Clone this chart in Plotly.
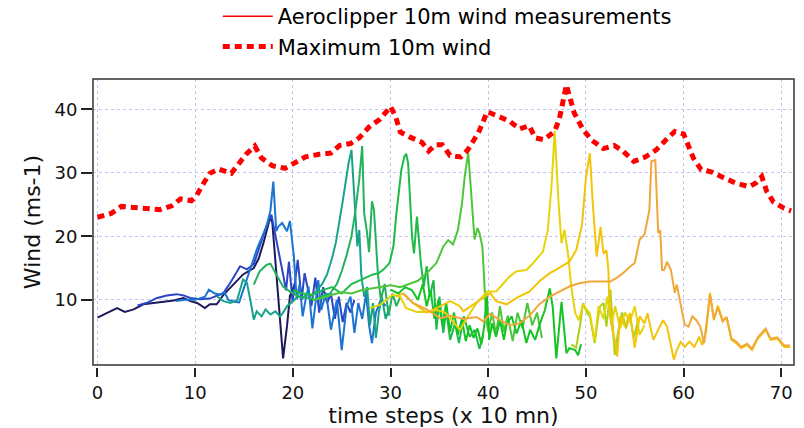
import plotly.graph_objects as go

# ---------------- data ----------------
# Maximum 10m wind (red dotted)
max_x = [0.0, 1.4, 2.45, 5.0, 6.4, 7.6, 8.5, 9.6, 10.1, 10.8, 11.5, 12.4, 13.7, 15.2, 16.1, 16.8, 17.9, 19.2, 20.3,
         21.3, 22.7, 23.9, 24.8, 25.9, 26.8, 27.8, 28.9, 30.0, 30.5, 31.0, 32.0, 33.2, 33.9, 34.6, 35.3, 36.1,
         37.2, 37.9, 39.0, 39.9, 41.0, 42.2, 43.2, 44.2, 44.8, 45.7, 46.8, 47.3, 48.0, 48.4, 48.8, 49.7, 50.6,
         51.8, 52.9, 53.8, 54.9, 56.1, 57.2, 58.2, 59.1, 60.0, 61.0, 61.8, 62.9, 64.1, 65.3, 66.7, 67.4, 68.0,
         68.5, 69.2, 70.3, 71.0]
max_y = [23.0, 23.6, 24.7, 24.4, 24.2, 24.8, 25.9, 25.6, 26.3, 28.2, 29.9, 30.6, 29.9, 32.9, 34.2, 32.3, 31.1, 30.7,
         31.7, 32.5, 32.9, 33.1, 34.3, 34.6, 35.5, 37.2, 38.4, 40.4, 38.9, 36.4, 35.6, 34.8, 33.4, 34.4, 34.4,
         32.7, 32.5, 33.6, 36.3, 39.6, 38.9, 38.1, 36.9, 37.4, 35.5, 35.2, 36.5, 38.6, 43.8, 41.7, 39.4, 36.8,
         35.1, 33.8, 34.3, 33.4, 31.8, 32.5, 33.6, 35.2, 36.5, 36.1, 32.3, 30.5, 30.1, 29.2, 28.4, 27.8, 28.4,
         29.4, 27.1, 25.4, 24.4, 24.0]

# Aeroclipper series (time step, wind)
s01_x = [0, 1, 2, 2.8, 3.7, 4.7, 5.7, 6.7, 7.8, 8.8, 9.5, 10.2, 11, 11.5, 12.2, 12.9, 13.9, 14.9, 16, 16.5, 17,
         17.4, 17.7, 17.9, 18.3, 18.7, 19.0, 19.4, 19.7, 20.2]
s01_y = [7.2, 7.9, 8.7, 8.1, 8.5, 9.3, 9.5, 9.6, 9.9, 10.3, 9.8, 9.5, 8.7, 9.3, 9.3, 10.8, 12.4, 14.0, 15.0, 16.5,
         19.0, 21.5, 23.1, 22.1, 14.8, 6.9, 0.8, 5.9, 10.6, 12.5]

s02_x = [4.1, 5, 6.1, 7.1, 8.1, 8.8, 9.5, 10.5, 11.5, 12.2, 12.9, 13.6, 14.6, 15.3, 16, 16.6, 17.3, 17.8, 18.2,
         18.5, 19.0, 19.3, 19.6, 19.97, 20.5, 20.9, 21.2, 21.6, 21.9, 22.3, 22.7, 23.1, 23.5, 23.9, 24.3, 24.7,
         25.1, 25.5, 25.9, 26.3]
s02_y = [9.1, 9.5, 10.3, 10.7, 10.9, 10.7, 10.3, 10.1, 10.2, 10.6, 11.1, 12.7, 15.3, 14.8, 15.6, 18.4, 21.6, 23.4,
         20.5, 17.9, 14.0, 11.5, 16.0, 9.7, 16.3, 10.0, 14.2, 11.0, 9.0, 13.5, 8.0, 12.0, 9.5, 11.0, 7.0, 10.5,
         6.5, 9.5, 8.0, 10.0]

s03_x = [8, 9, 10, 11, 11.4, 12, 12.6, 13, 13.4, 14, 14.5, 15.3, 16.3, 17.3, 17.7, 18.0, 18.3, 18.5, 18.9, 19.4,
         19.7, 20.1, 20.4, 20.7, 21.0, 21.3, 21.6, 22.0, 22.3, 22.6, 22.9, 23.4, 23.9, 24.5, 25.0, 25.5, 25.9,
         26.3, 26.7, 27.1, 27.5, 27.8, 28.1, 28.5, 29.0, 29.5]
s03_y = [9.8, 10.0, 10.0, 10.5, 11.6, 11.0, 10.8, 11.2, 10.0, 9.7, 9.6, 13.2, 17.9, 21.6, 24.0, 28.6, 20.8, 21.5,
         22.1, 20.8, 22.4, 16.9, 10.1, 12.5, 7.4, 10.0, 12.1, 5.5, 9.0, 13.1, 8.4, 11.1, 5.3, 10.0, 2.1, 9.0,
         10.5, 4.8, 9.5, 7.0, 11.0, 6.0, 3.2, 8.0, 10.0, 9.0]

s05_x = [12.2, 12.9, 13.6, 14.3, 14.9, 15.3, 15.7, 16.0, 16.3, 16.8, 17.2, 17.7, 18.2, 18.7, 19.0, 19.4, 20.0,
         20.5, 21, 21.5, 22, 22.5, 23, 23.5, 24, 24.4, 24.8, 25.1, 25.4, 25.7, 26.0, 26.2, 26.4, 26.6, 26.8, 27.0,
         27.3, 27.6, 27.9, 28.2, 28.5, 28.8, 29.1, 29.5, 29.9]
s05_y = [10.6, 9.8, 9.5, 10.0, 13.2, 12.7, 9.5, 6.9, 8.2, 7.4, 8.5, 7.7, 8.2, 7.4, 8.0, 9.0, 9.8, 10.5, 10.3, 11.0,
         10.6, 11.5, 12.5, 14.0, 16.5, 19.0, 22.5, 25.5, 28.5, 31.5, 33.6, 29.0, 24.1, 18.4, 21.0, 14.0, 10.5,
         12.0, 6.0, 9.5, 4.0, 8.0, 10.5, 7.0, 9.0]

s06_x = [16.0, 16.6, 17.3, 17.7, 18.3, 19.0, 19.7, 20.7, 21.5, 22.3, 23.0, 23.8, 24.5, 25.0, 25.5, 26.0, 26.4,
         26.8, 27.1, 27.3, 27.6, 27.8, 28.1, 28.3, 28.7, 29.0, 29.4, 29.8, 30.2, 30.6, 31.0]
s06_y = [12.4, 14.5, 15.5, 15.7, 14.0, 12.1, 11.3, 10.5, 10.3, 10.0, 10.6, 11.0, 12.5, 14.5, 17.0, 20.0, 24.0,
         29.0, 34.2, 23.6, 20.5, 17.5, 25.5, 24.2, 14.2, 10.0, 12.5, 7.5, 11.0, 9.0, 10.5]

s07_x = [20, 21, 22, 23, 24, 25, 26, 26.8, 27.5, 28.2, 28.8, 29.3, 29.9, 30.3, 30.6, 31.1, 31.4, 31.6, 31.8, 32.0,
         32.2, 32.4, 32.7, 33.1, 33.4, 33.7, 34.0, 34.4, 34.7, 35.0, 35.4, 35.7, 36.1, 36.6, 37.0, 37.5, 38.1,
         38.6, 39.1, 39.5]
s07_y = [11.5, 11.0, 10.8, 11.5, 12.0, 11.0, 12.5, 13.0, 13.5, 14.0, 14.2, 14.8, 15.8, 18.5, 23.6, 30.4, 32.5,
         33.0, 31.5, 26.3, 20.0, 17.3, 23.1, 15.8, 12.1, 15.3, 10.5, 13.1, 5.3, 10.5, 4.8, 8.4, 3.7, 6.3, 3.2,
         7.4, 4.2, 5.3, 2.3, 4.5]

s08_x = [22, 23, 24, 25, 26, 27, 28, 29, 30, 31, 32, 32.8, 33.7, 34.2, 34.7, 35.4, 35.9, 36.4, 36.9, 37.3, 37.6,
         37.95, 38.2, 38.4, 38.6, 38.9, 39.1, 39.4, 39.6, 39.8, 40.0, 40.4, 40.8, 41.2, 41.6, 42.0, 42.5, 43.0,
         43.5, 44.0, 44.5, 45.0, 45.5]
s08_y = [10.0, 10.3, 10.8, 11.2, 11.0, 11.5, 11.8, 12.0, 12.3, 12.0, 12.5, 13.0, 14.2, 15.0, 15.8, 18.4, 19.4,
         18.7, 21.0, 25.0, 29.5, 33.2, 28.0, 23.0, 19.5, 21.3, 20.5, 18.4, 13.0, 7.0, 5.0, 8.0, 4.5, 9.0, 5.0,
         7.5, 3.5, 8.0, 5.5, 9.5, 6.0, 8.0, 4.0]

s09_x = [30, 30.8, 31.5, 32.2, 32.8, 33.3, 33.7, 34.1, 34.5, 34.9, 35.3, 35.7, 36.1, 36.5, 36.9, 37.3, 37.7, 38.1,
         38.5, 38.9, 39.3, 39.6, 39.85, 40.1, 40.4, 40.8, 41.2, 41.6, 41.9, 42.4, 42.9, 43.4, 43.9, 44.3, 44.8,
         45.3, 45.8, 46.3, 46.6, 46.97, 47.5, 48.0, 48.3, 48.9, 49.2, 49.5]
s09_y = [11.6, 11.0, 12.0, 11.5, 10.0, 12.5, 9.0, 11.5, 7.0, 10.0, 6.0, 9.5, 5.0, 8.0, 4.5, 7.0, 3.5, 6.0, 4.0,
         5.5, 3.0, 6.0, 11.0, 3.7, 6.3, 4.2, 6.8, 3.7, 6.3, 7.4, 4.7, 6.8, 3.2, 5.3, 3.7, 6.3, 8.4, 11.8, 8.9,
         0.8, 9.7, 1.6, 2.4, 2.1, 1.3, 3.0]

s10_x = [48.5, 49.0, 49.4, 49.7, 50.1, 50.4, 50.9, 51.4, 51.8, 52.1, 52.5, 52.95, 53.3, 53.7, 54.1, 54.5, 54.9,
         55.3]
s10_y = [3.0, 2.5, 6.0, 9.5, 8.0, 7.4, 3.2, 8.9, 9.5, 5.8, 11.6, 1.35, 5.0, 8.0, 5.5, 7.5, 4.0, 6.5]

s11_x = [27.9, 28.9, 30.2, 31.0, 31.6, 32.7, 33.7, 34.7, 35.6, 36.6, 37.1, 37.8, 38.8, 39.9, 40.8, 41.5, 42.2,
         42.9, 43.9, 44.6, 45.6, 46.1, 46.5, 46.8, 47.2, 47.5, 47.8, 48.2, 48.5, 48.9, 49.3, 49.7, 50.1, 50.4,
         50.9, 51.3, 51.8, 52.2, 52.6, 53.0, 53.5, 54.0, 54.5, 55.0, 55.5, 56.0]
s11_y = [8.7, 9.2, 10.8, 10.5, 8.7, 8.1, 8.1, 8.4, 8.0, 6.3, 5.3, 7.1, 9.5, 11.3, 11.3, 12.5, 13.7, 14.5, 14.7,
         15.8, 17.6, 21.0, 28.4, 36.6, 25.2, 18.9, 21.0, 16.8, 12.1, 7.9, 6.8, 9.4, 8.4, 7.9, 3.5, 9.0, 7.0,
         10.5, 6.0, 9.0, 5.5, 8.0, 6.5, 9.0, 4.5, 6.0]

s12_x = [30.5, 31.3, 32.3, 33.7, 34.7, 36.1, 37.1, 37.45, 38.5, 39.5, 40.2, 40.8, 41.9, 42.9, 44.2, 45.3, 46.3,
         47.0, 47.7, 48.3, 49.0, 49.6, 50.0, 50.4, 50.7, 51.1, 51.5, 51.8, 52.1, 52.3, 52.4, 52.7, 52.95, 53.2,
         53.5, 54.0, 54.5, 55.0, 55.5, 56.0, 56.3, 56.9, 57.4, 57.9, 58.3, 58.6, 59.0, 59.3, 59.7, 60.1, 60.6,
         61.1, 61.6, 61.9, 62.3, 62.7, 63.1, 63.5, 64.0, 64.4, 64.9, 65.4, 65.9, 66.5, 67.0, 67.6, 68.4, 68.9,
         69.6, 70.3, 70.9]
s12_y = [10.5, 11.0, 9.5, 8.0, 8.7, 9.8, 9.0, 8.2, 9.3, 10.3, 11.1, 9.8, 9.3, 10.3, 11.3, 13.0, 14.2, 14.8, 15.4,
         16.0, 17.8, 21.8, 29.2, 33.1, 25.2, 16.8, 21.5, 17.3, 17.8, 14.7, 9.4, 5.3, 3.7, 1.1, 7.4, 5.8, 7.9,
         2.5, 7.4, 6.3, 7.9, 3.7, 5.3, 6.8, 5.8, 3.7, 0.6, 2.1, 3.4, 2.6, 3.4, 2.6, 4.2, 2.9, 5.0, 11.1, 6.8,
         9.1, 6.8, 7.1, 3.7, 3.2, 2.4, 2.9, 2.1, 3.9, 5.3, 3.7, 3.9, 2.6, 2.6]

s13_x = [31.3, 32.3, 33.7, 35.1, 36.1, 37.45, 38.8, 39.5, 40.2, 41.2, 42.2, 43.2, 44.2, 45.3, 46.3, 47.3, 48.3,
         49.3, 50.4, 51.4, 52.5, 53.1, 53.8, 54.5, 55.0, 55.5, 56.0, 56.5, 56.7, 57.1, 57.4, 57.6, 57.8, 58.0,
         58.3, 58.7, 59.1, 59.3, 59.7, 60.1, 60.5, 60.9, 61.3, 61.7, 62.1, 62.7, 63.1, 63.5, 64.0, 64.4, 64.9,
         65.4, 65.9, 66.5, 67.0, 67.6, 68.4, 68.9, 69.6, 70.3, 70.9]
s13_y = [11.0, 9.5, 8.5, 7.1, 7.5, 7.0, 7.3, 6.6, 7.8, 6.8, 6.0, 6.3, 7.5, 9.4, 10.5, 11.3, 12.1, 12.6, 12.9,
         12.9, 12.9, 13.4, 14.2, 15.2, 15.8, 19.5, 20.3, 24.2, 31.8, 32.0, 20.5, 21.0, 14.7, 14.7, 16.0, 14.7,
         11.1, 12.4, 9.5, 6.1, 5.8, 7.4, 6.8, 5.8, 3.2, 10.8, 7.0, 8.8, 6.6, 7.3, 3.9, 3.4, 2.6, 3.1, 2.3, 4.1,
         5.5, 3.9, 4.1, 2.8, 2.8]

series = [
    (s01_x, s01_y, "#1c1a5a"),
    (s02_x, s02_y, "#2b45c8"),
    (s03_x, s03_y, "#1b74d0"),
    (s05_x, s05_y, "#17a387"),
    (s06_x, s06_y, "#24b25c"),
    (s07_x, s07_y, "#1fbb48"),
    (s08_x, s08_y, "#4ec63c"),
    (s09_x, s09_y, "#14c423"),
    (s10_x, s10_y, "#a8d21a"),
    (s11_x, s11_y, "#e6d40a"),
    (s12_x, s12_y, "#f2c40a"),
    (s13_x, s13_y, "#f0a83a"),
]

x_ticks = [0, 10, 20, 30, 40, 50, 60, 70]
y_ticks = [10, 20, 30, 40]

FONT = "DejaVu Sans"

fig = go.Figure()

for sx, sy, col in series:
    fig.add_trace(go.Scatter(x=sx, y=sy, mode="lines", line=dict(color=col, width=2),
                             showlegend=False, hoverinfo="skip"))

fig.add_trace(go.Scatter(x=max_x, y=max_y, mode="lines", name="Maximum 10m wind",
                         line=dict(color="#ff0000", width=5, dash="7px,5px"), legendrank=2))

fig.add_trace(go.Scatter(x=[None], y=[None], mode="lines", name="Aeroclipper 10m wind measurements",
                         line=dict(color="#ff0000", width=1.5), legendrank=1))

plot_h = 428 - 79 - 61
fig.update_layout(
    width=804, height=428,
    margin=dict(l=93, r=10, t=79, b=61, autoexpand=False),
    paper_bgcolor="white", plot_bgcolor="white",
    font=dict(family=FONT, color="#111111"),
    legend=dict(x=0.178, y=1 + 83 / plot_h, xanchor="left", yanchor="top",
                font=dict(size=21, family=FONT, color="#000000"),
                itemwidth=50, bgcolor="rgba(0,0,0,0)", tracegroupgap=0),
    xaxis=dict(range=[-0.46, 71.3], domain=[0, 1], anchor="free", position=0,
               tickvals=x_ticks, ticks="outside", ticklen=9, tickwidth=2, tickcolor="#222222",
               showline=False, zeroline=False, automargin=False,
               showgrid=True, gridcolor="#c4c4f0", griddash="dot", gridwidth=1,
               tickfont=dict(size=18, family=FONT),
               title=dict(text="time steps (x 10 mn)", font=dict(size=22, family=FONT), standoff=2)),
    yaxis=dict(range=[-0.25, 44.75], domain=[2 / plot_h, 1],
               tickvals=y_ticks, ticks="outside", ticklen=11, tickwidth=2, tickcolor="#222222",
               showline=False, zeroline=False, automargin=False,
               showgrid=True, gridcolor="#c4c4f0", griddash="dot", gridwidth=1,
               tickfont=dict(size=18, family=FONT),
               title=dict(text="Wind (ms-1)", font=dict(size=22, family=FONT), standoff=7)),
    shapes=[dict(type="rect", xref="x domain", yref="y domain", x0=0, x1=1, y0=0, y1=1,
                 line=dict(color="#333333", width=1.5), layer="above")],
)

fig.write_html("out.html")
